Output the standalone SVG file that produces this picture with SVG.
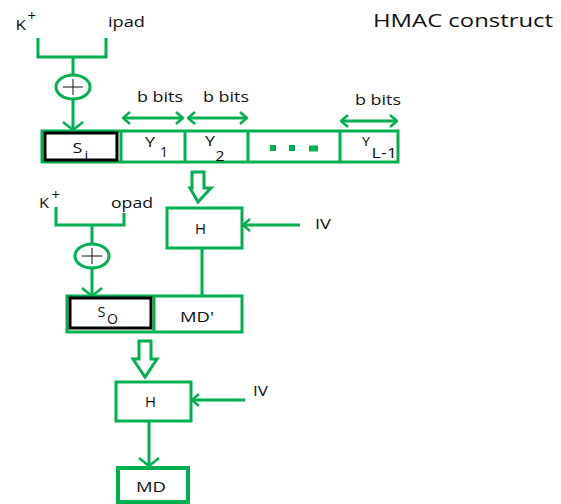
<svg xmlns="http://www.w3.org/2000/svg" width="561" height="504" viewBox="0 0 561 504">
<defs>
<style>
.g{fill:none;stroke:#00B050;stroke-width:3}
.gw{fill:#fff;stroke:#00B050;stroke-width:3}
.bk{fill:#fff;stroke:#000;stroke-width:3}
.t{font-family:"Open Sans","Liberation Sans",sans-serif;font-size:15px;fill:#111}
.s{font-family:"Open Sans","Liberation Sans",sans-serif;font-size:12px;fill:#111}
.p{font-family:"Open Sans","Liberation Sans",sans-serif;font-size:14px;fill:#111}
.x{fill:none;stroke:#111;stroke-width:1}
</style>
<marker id="ah" viewBox="0 0 10 14" refX="9" refY="7" markerWidth="10" markerHeight="14" markerUnits="userSpaceOnUse" orient="auto-start-reverse">
<path d="M2,1 L9,7 L2,13" fill="none" stroke="#00B050" stroke-width="2.5"/>
</marker>
<marker id="ahl" viewBox="0 0 10 22" refX="9" refY="11" markerWidth="10" markerHeight="22" markerUnits="userSpaceOnUse" orient="auto">
<path d="M1,1 L9,11 L1,21" fill="none" stroke="#00B050" stroke-width="2.5"/>
</marker>
</defs>
<rect width="561" height="504" fill="#fff"/>

<text x="373" y="26.5" textLength="180" lengthAdjust="spacingAndGlyphs" style="font-family:'Open Sans','Liberation Sans',sans-serif;font-size:19px;fill:#111">HMAC construct</text>

<g id="connectors">
<path class="g" d="M38,38 V57 H106 V38"/>
<line class="g" x1="73" y1="57" x2="73" y2="75"/>
<line class="g" x1="73" y1="99" x2="73" y2="130" marker-end="url(#ahl)"/>
<line class="g" x1="123" y1="118" x2="183" y2="118" marker-start="url(#ah)" marker-end="url(#ah)"/>
<line class="g" x1="188" y1="118" x2="247" y2="118" marker-start="url(#ah)" marker-end="url(#ah)"/>
<line class="g" x1="341" y1="121" x2="397" y2="121" marker-start="url(#ah)" marker-end="url(#ah)"/>
<path class="gw" d="M192,172 H204 V188 H211 L198,202 L190,188 H192 Z"/>
<line class="g" x1="300" y1="225" x2="243" y2="225" marker-end="url(#ah)"/>
<line class="g" x1="202" y1="248" x2="202" y2="296"/>
<path class="g" d="M56,207 V225 H124 V213"/>
<line class="g" x1="92" y1="225" x2="92" y2="244"/>
<line class="g" x1="92" y1="268" x2="92" y2="296" marker-end="url(#ahl)"/>
<path class="gw" d="M139,341 H151 V359 H157 L145,377 L133,359 H139 Z"/>
<line class="g" x1="245" y1="400" x2="192" y2="400" marker-end="url(#ah)"/>
<line class="g" x1="149" y1="421" x2="149" y2="466" marker-end="url(#ahl)"/>
</g>

<g id="k1">
<text class="t" x="15.5" y="30" textLength="10.5" lengthAdjust="spacingAndGlyphs">K</text>
<text class="p" x="27.5" y="21" textLength="8.5" lengthAdjust="spacingAndGlyphs">+</text>
</g>
<g id="ipad"><text class="t" x="108" y="27" textLength="37" lengthAdjust="spacingAndGlyphs">ipad</text></g>
<g id="xor1">
<ellipse class="g" cx="73" cy="87" rx="17" ry="12"/>
<path class="x" d="M63,87 H83 M73,79 V95"/>
</g>

<g id="labels-bbits">
<text class="t" x="137" y="101.5" textLength="46" lengthAdjust="spacingAndGlyphs">b bits</text>
<text class="t" x="203" y="101.5" textLength="46" lengthAdjust="spacingAndGlyphs">b bits</text>
<text class="t" x="355" y="105" textLength="46" lengthAdjust="spacingAndGlyphs">b bits</text>
</g>

<g id="row1">
<rect class="g" x="42" y="131" width="356" height="31"/>
<rect class="bk" x="45" y="133" width="72" height="27"/>
<line class="g" x1="121" y1="131" x2="121" y2="162"/>
<line class="g" x1="185" y1="131" x2="185" y2="162"/>
<line class="g" x1="248" y1="131" x2="248" y2="162"/>
<line class="g" x1="340" y1="131" x2="340" y2="162"/>
</g>
<g id="si"><text class="t" x="72.5" y="153" textLength="10" lengthAdjust="spacingAndGlyphs">S</text><text class="t" x="84.5" y="160.5">i</text></g>
<g id="y1"><text class="t" x="145" y="147" textLength="10" lengthAdjust="spacingAndGlyphs">Y</text><text class="t" x="160" y="157" textLength="8" lengthAdjust="spacingAndGlyphs">1</text></g>
<g id="y2"><text class="t" x="205" y="146" textLength="10" lengthAdjust="spacingAndGlyphs">Y</text><text class="t" x="215.5" y="160.5" textLength="9" lengthAdjust="spacingAndGlyphs">2</text></g>
<g id="dots">
<rect x="270" y="145" width="6" height="6" fill="#00B050"/>
<rect x="289" y="145" width="6" height="6" fill="#00B050"/>
<rect x="309" y="145.5" width="9" height="6" fill="#00B050"/>
</g>
<g id="yl1"><text class="s" x="362" y="146" textLength="8" lengthAdjust="spacingAndGlyphs">Y</text><text class="t" x="371.5" y="157.5" textLength="25.5" lengthAdjust="spacingAndGlyphs">L-1</text></g>

<g id="h1">
<rect class="gw" x="167" y="208" width="75" height="40"/>
<text class="t" x="195" y="234" textLength="11" lengthAdjust="spacingAndGlyphs">H</text>
</g>
<g id="iv1"><text class="t" x="315" y="229" textLength="16" lengthAdjust="spacingAndGlyphs">IV</text></g>

<g id="k2">
<text class="t" x="39" y="207.5" textLength="10" lengthAdjust="spacingAndGlyphs">K</text>
<text class="p" x="51.5" y="199.5" textLength="8.5" lengthAdjust="spacingAndGlyphs">+</text>
</g>
<g id="opad"><text class="t" x="111" y="207.5" textLength="42" lengthAdjust="spacingAndGlyphs">opad</text></g>
<g id="xor2">
<ellipse class="g" cx="92" cy="256" rx="17" ry="12"/>
<path class="x" d="M82,256 H102 M92,248 V264"/>
</g>

<g id="row2">
<rect class="g" x="67" y="296" width="175" height="36"/>
<rect class="bk" x="70" y="298" width="81" height="30"/>
<line class="g" x1="154" y1="296" x2="154" y2="332"/>
</g>
<g id="so"><text class="t" x="97.5" y="316.5" textLength="8" lengthAdjust="spacingAndGlyphs">S</text><text class="t" x="107" y="323.5" textLength="11" lengthAdjust="spacingAndGlyphs">O</text></g>
<g id="mdp"><text class="t" x="180" y="322" textLength="34" lengthAdjust="spacingAndGlyphs">MD'</text></g>

<g id="h2">
<rect class="gw" x="116" y="382" width="75" height="39"/>
<text class="t" x="145" y="407" textLength="11" lengthAdjust="spacingAndGlyphs">H</text>
</g>
<g id="iv2"><text class="t" x="253" y="396" textLength="15" lengthAdjust="spacingAndGlyphs">IV</text></g>

<g id="md">
<rect x="118" y="468" width="70" height="34" fill="#fff" stroke="#00B050" stroke-width="4"/>
<text class="t" x="136" y="492" textLength="30" lengthAdjust="spacingAndGlyphs">MD</text>
</g>
</svg>
